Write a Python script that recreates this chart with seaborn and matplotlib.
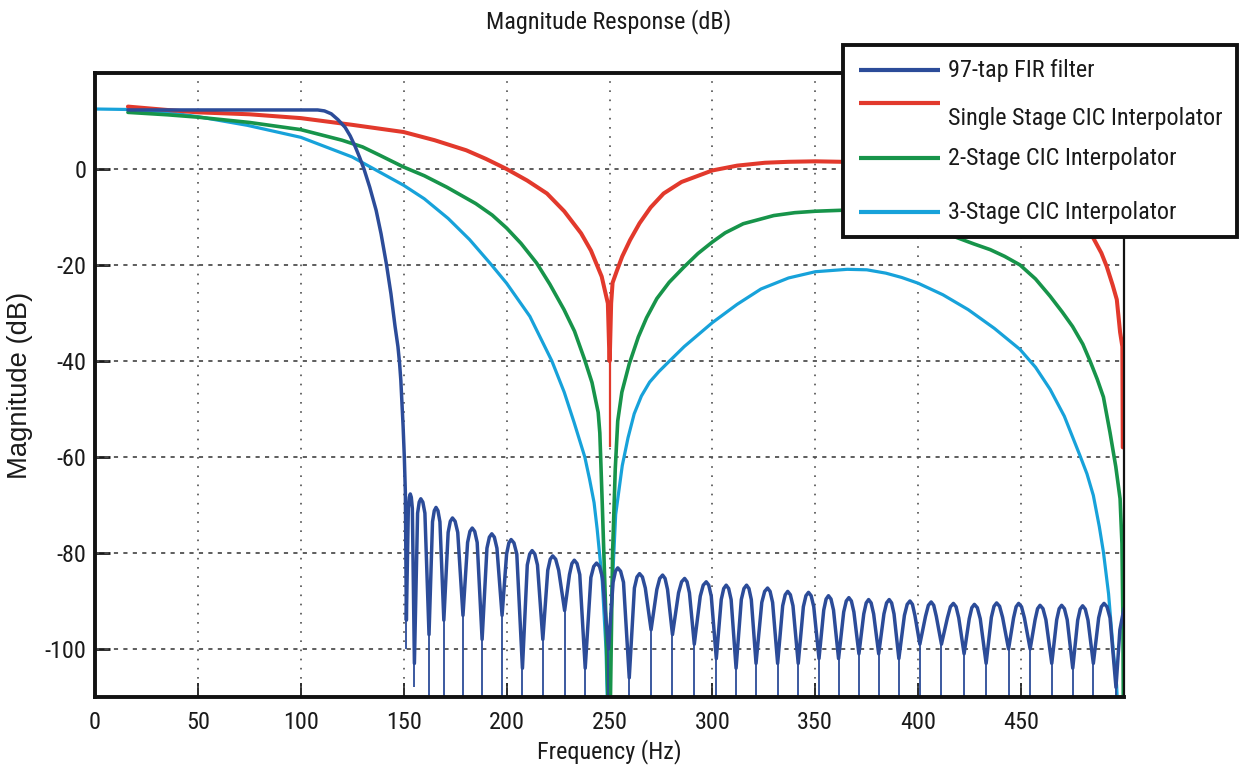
import matplotlib
matplotlib.use("Agg")
import matplotlib.pyplot as plt
from matplotlib.font_manager import fontManager
from matplotlib.patches import Rectangle
import numpy as np
import pandas as pd
import seaborn as sns

# ---------------------------------------------------------------- data
# 97-tap FIR filter: flat passband and transition band
fir_pass_hz = [16, 108.2, 111.5, 114.8, 118.0, 121.5, 124.0, 126.5, 128.6, 130.7,
               133.5, 136.6, 139.0, 141.6, 143.8, 145.8, 147.2, 148.0, 148.6, 149.2,
               149.7, 150.3, 150.8]
fir_pass_db = [12.3, 12.3, 12.1, 11.5, 10.3, 8.7, 6.9, 4.6, 2.4, 0.0,
               -3.8, -8.6, -13.5, -19.8, -26.0, -32.8, -37.0, -40.5, -44.0, -49.0,
               -53.5, -60.0, -67.3]

# stopband lobes, one row per lobe: [null, shoulder, near-top, peak, near-top, shoulder]
fir_lobe_hz = [
    [151.3, 152.25, 152.73, 153.2, 153.7, 154.2],
    [155.2, 156.75, 157.53, 158.3, 159.3, 160.3],
    [162.3, 164.0, 164.85, 165.7, 166.65, 167.6],
    [169.5, 171.6, 172.65, 173.7, 174.98, 176.25],
    [178.8, 181.05, 182.18, 183.3, 184.5, 185.7],
    [188.1, 190.45, 191.63, 192.8, 194.05, 195.3],
    [197.8, 200.0, 201.1, 202.2, 203.58, 204.95],
    [207.7, 210.05, 211.23, 212.4, 213.7, 215.0],
    [217.6, 220.0, 221.2, 222.4, 223.85, 225.3],
    [228.2, 230.55, 231.73, 232.9, 234.23, 235.55],
    [238.2, 240.95, 242.33, 243.7, 245.15, 246.6],
    [249.5, 251.75, 252.88, 254.0, 255.4, 256.8],
    [259.6, 262.1, 263.35, 264.6, 266.0, 267.4],
    [270.2, 273.0, 274.4, 275.8, 277.0, 278.2],
    [280.6, 283.55, 285.03, 286.5, 287.68, 288.85],
    [291.2, 294.1, 295.55, 297.0, 298.23, 299.45],
    [301.9, 304.3, 305.5, 306.7, 307.9, 309.1],
    [311.5, 314.05, 315.33, 316.6, 317.75, 318.9],
    [321.2, 324.0, 325.4, 326.8, 328.03, 329.25],
    [331.7, 334.15, 335.38, 336.6, 337.88, 339.15],
    [341.7, 344.2, 345.45, 346.7, 347.98, 349.25],
    [351.8, 354.1, 355.25, 356.4, 357.63, 358.85],
    [361.3, 363.8, 365.05, 366.3, 367.53, 368.75],
    [371.2, 373.55, 374.73, 375.9, 377.13, 378.35],
    [380.8, 383.35, 384.63, 385.9, 387.08, 388.25],
    [390.6, 393.3, 394.65, 396.0, 397.2, 398.4],
    [400.8, 403.55, 404.93, 406.3, 407.55, 408.8],
    [411.3, 414.2, 415.65, 417.1, 418.4, 419.7],
    [422.3, 424.8, 426.05, 427.3, 428.73, 430.15],
    [433.0, 435.55, 436.83, 438.1, 439.55, 441.0],
    [443.9, 446.35, 447.58, 448.8, 450.2, 451.6],
    [454.4, 456.8, 458.0, 459.2, 460.63, 462.05],
    [464.9, 467.3, 468.5, 469.7, 471.05, 472.4],
    [475.1, 477.5, 478.7, 479.9, 481.2, 482.5],
    [485.1, 487.7, 489.0, 490.3, 491.75, 493.2],
]
fir_lobe_db = [
    [-94, -70.7, -68.4, -67.7, -68.4, -70.7],
    [-103, -71.7, -69.4, -68.7, -69.4, -71.7],
    [-97, -73.5, -71.2, -70.5, -71.2, -73.5],
    [-94, -75.7, -73.4, -72.7, -73.4, -75.7],
    [-93, -77.8, -75.5, -74.8, -75.5, -77.8],
    [-98, -79.0, -76.7, -76.0, -76.7, -79.0],
    [-93, -80.2, -77.9, -77.2, -77.9, -80.2],
    [-104, -82.5, -80.2, -79.5, -80.2, -82.5],
    [-98, -83.6, -81.3, -80.6, -81.3, -83.6],
    [-92, -84.5, -82.2, -81.5, -82.2, -84.5],
    [-104, -85.1, -82.8, -82.1, -82.8, -85.1],
    [-100, -86.1, -83.8, -83.1, -83.8, -86.1],
    [-106, -87.3, -85.0, -84.3, -85.0, -87.3],
    [-96, -87.6, -85.3, -84.6, -85.3, -87.6],
    [-97, -88.3, -86.0, -85.3, -86.0, -88.3],
    [-99, -89.0, -86.7, -86.0, -86.7, -89.0],
    [-102, -89.7, -87.4, -86.7, -87.4, -89.7],
    [-104, -89.7, -87.4, -86.7, -87.4, -89.7],
    [-103, -90.3, -88.0, -87.3, -88.0, -90.3],
    [-103, -91.0, -88.7, -88.0, -88.7, -91.0],
    [-103, -91.2, -88.9, -88.2, -88.9, -91.2],
    [-102, -91.9, -89.6, -88.9, -89.6, -91.9],
    [-102, -92.3, -90.0, -89.3, -90.0, -92.3],
    [-101, -92.7, -90.4, -89.7, -90.4, -92.7],
    [-101, -92.7, -90.4, -89.7, -90.4, -92.7],
    [-102, -93.0, -90.7, -90.0, -90.7, -93.0],
    [-99, -93.2, -90.9, -90.2, -90.9, -93.2],
    [-99, -93.5, -91.2, -90.5, -91.2, -93.5],
    [-101, -93.7, -91.4, -90.7, -91.4, -93.7],
    [-103, -93.4, -91.1, -90.4, -91.1, -93.4],
    [-100, -93.5, -91.2, -90.5, -91.2, -93.5],
    [-100, -93.9, -91.6, -90.9, -91.6, -93.9],
    [-103, -93.9, -91.6, -90.9, -91.6, -93.9],
    [-104, -94.0, -91.7, -91.0, -91.7, -94.0],
    [-103, -93.5, -91.2, -90.5, -91.2, -93.5],
]
fir_tail_hz = [496.1, 498.0, 500.0]
fir_tail_db = [-108, -96.0, -91.5]
# deep part of each stopband null (thin trace below the lobe bottoms)
fir_null_hz = [151.3, 155.2, 162.3, 169.5, 178.8, 188.1, 197.8, 207.7, 217.6, 228.2,
               238.2, 249.5, 259.6, 270.2, 280.6, 291.2, 301.9, 311.5, 321.2, 331.7,
               341.7, 351.8, 361.3, 371.2, 380.8, 390.6, 400.8, 411.3, 422.3, 433.0,
               443.9, 454.4, 464.9, 475.1, 485.1, 496.1]
fir_null_floor = [-100, -108, -125, -125, -125, -125, -125, -125, -125, -125,
                  -125, -125, -125, -125, -125, -125, -125, -125, -125, -125,
                  -125, -125, -125, -125, -125, -125, -125, -125, -125, -125,
                  -125, -125, -125, -125, -125, -125]

# Single stage CIC interpolator
cic1_hz = [16, 35, 50, 75, 100, 125, 150, 165, 180.4, 190,
           200, 210, 219.6, 228, 236.2, 241, 246.2, 249.2, 250.0, 250.1,
           250.8, 251.5, 253.5, 256.2, 260, 264.6, 270, 276.3, 285, 300,
           312, 325.5, 337, 350, 362.6, 375, 387, 400, 412, 425,
           437, 450, 460, 470, 478, 485.1, 489, 491.6, 494.5, 496.5,
           498.1, 499.2, 499.4]
cic1_db = [13.0, 12.3, 11.8, 11.4, 10.6, 9.2, 7.7, 6.0, 3.9, 2.1,
           0.0, -2.4, -5.1, -8.8, -13.4, -17.0, -22.4, -28.0, -40.0, -40.0,
           -28.0, -23.7, -21.3, -18.2, -14.8, -11.3, -8.0, -5.1, -2.7, -0.3,
           0.7, 1.3, 1.5, 1.6, 1.5, 1.5, 1.3, 1.0, 0.3, -0.5,
           -1.8, -3.5, -5.6, -8.5, -11.0, -14.4, -17.5, -20.3, -24.2, -27.2,
           -34.0, -37.0, -58.0]
# thin deep end of the notch at 250 Hz
cic1_null_hz = [250.0]
cic1_null_top = [-40.0]
cic1_null_floor = [-58.0]

# 2-stage CIC interpolator
cic2_hz = [16, 35, 50, 75, 100, 120, 130, 138.2, 150, 160,
           171, 185, 193, 200, 207, 214.6, 221, 227.9, 233, 237.9,
           241.5, 244.5, 245.3, 246.5, 248.0, 249.5, 250.3, 251.5, 252.8, 254.0,
           256.0, 259.6, 264.0, 268.0, 273.0, 279.0, 286.0, 293.0, 300.0, 306.2,
           315.0, 329.8, 340.0, 350.0, 362.6, 375.0, 387.0, 400.0, 410.0, 417.6,
           427.0, 435.0, 442.0, 449.5, 457.0, 464.1, 470.0, 475.0, 480.0, 483.5,
           487.0, 490.0, 493.2, 496.0, 498.1, 499.0, 499.5, 499.7]
cic2_db = [11.8, 11.3, 10.8, 9.7, 8.2, 6.0, 4.6, 2.9, 0.4, -1.4,
           -3.8, -7.2, -9.6, -12.3, -15.5, -19.6, -24.0, -29.3, -33.8, -39.7,
           -44.5, -50.7, -55.0, -70.0, -90.0, -115.0, -115.0, -80.0, -62.5, -52.5,
           -46.5, -40.6, -35.0, -31.0, -27.0, -23.6, -20.5, -17.6, -15.2, -13.3,
           -11.4, -9.7, -9.1, -8.8, -8.6, -8.8, -9.6, -11.0, -12.6, -14.1,
           -15.6, -16.8, -18.2, -20.0, -22.9, -26.5, -29.8, -32.8, -36.5, -40.0,
           -43.8, -47.5, -54.9, -62.0, -68.7, -78.0, -95.0, -115.0]

# 3-stage CIC interpolator
cic3_hz = [0, 16, 35, 50, 74, 100, 125, 150, 160, 171.6,
           182, 192.7, 200, 211.3, 222, 228, 232.8, 238, 240.3, 242.5,
           244, 246.5, 248.3, 249.2, 249.6, 251, 253, 256.2, 259, 262,
           265.5, 269.5, 274, 278, 286.3, 300, 312, 323.6, 337, 350,
           365.5, 375, 384.3, 392, 400, 412, 424.3, 437, 449.5, 457,
           464.1, 471, 478.6, 482, 485.1, 488, 490, 492.5, 494.8, 496.4,
           497.2]
cic3_db = [12.5, 12.4, 11.8, 10.9, 9.1, 6.6, 2.5, -3.4, -6.2, -10.3,
           -14.7, -20.0, -23.8, -30.7, -40.0, -46.5, -52.8, -60.0, -64.6, -69.5,
           -75.0, -86.0, -100.0, -115.0, -115.0, -90.0, -72.0, -61.8, -56.0, -51.0,
           -47.3, -44.4, -42.2, -40.5, -37.0, -32.0, -28.2, -25.0, -22.7, -21.4,
           -20.9, -21.0, -21.7, -22.6, -23.8, -26.2, -29.3, -33.2, -37.6, -41.3,
           -45.9, -51.5, -59.7, -63.5, -68.0, -74.5, -79.8, -88.5, -100.5, -107.5,
           -115.0]

series_names = ["97-tap FIR filter", "Single Stage CIC Interpolator",
                "2-Stage CIC Interpolator", "3-Stage CIC Interpolator"]
x_ticks = [0, 50, 100, 150, 200, 250, 300, 350, 400, 450]
y_ticks = [-100, -80, -60, -40, -20, 0]

# full FIR trace assembled from its pieces
fir_hz = fir_pass_hz + [v for row in fir_lobe_hz for v in row] + fir_tail_hz
fir_db = fir_pass_db + [v for row in fir_lobe_db for v in row] + fir_tail_db

# ---------------------------------------------------------------- style
sns.set_theme(style="white")
available = {f.name for f in fontManager.ttflist}
TEXT_FAMILY = next((n for n in ["Liberation Sans Narrow", "Arial Narrow", "Roboto Condensed"]
                    if n in available), "Liberation Sans")
NARROW = [TEXT_FAMILY, "DejaVu Sans"]
REGULAR = ["Liberation Sans", "DejaVu Sans"]
plt.rcParams["font.family"] = NARROW
plt.rcParams["lines.scale_dashes"] = False

colors = {
    series_names[0]: "#2c4c99",
    series_names[1]: "#e2392c",
    series_names[2]: "#17944a",
    series_names[3]: "#17a2da",
}
TXT = "#1a1a1a"

W, H = 1248, 771
fig = plt.figure(figsize=(W / 100, H / 100), dpi=100)
fig.patch.set_facecolor("white")
renderer = fig.canvas.get_renderer()


def text_px_width(s, size, family):
    t = fig.text(0, 0, s, fontsize=size, family=family)
    w = t.get_window_extent(renderer=renderer).width
    t.remove()
    return w


# size the fonts so that the long legend entry spans ~274 px
FS = 18.5 * 274 / text_px_width("Single Stage CIC Interpolator", 18.5, NARROW)
FS_Y = 18.5 * 188 / text_px_width("Magnitude (dB)", 18.5, REGULAR)

# axes frame in pixels: left 95, right 1124, top 73, bottom 697
ax = fig.add_axes([95 / W, 1 - 697 / H, (1124 - 95) / W, (697 - 73) / H])
ax.set_facecolor("white")

curves = [
    (series_names[3], cic3_hz, cic3_db, 2.3, 3),
    (series_names[2], cic2_hz, cic2_db, 2.6, 4),
    (series_names[1], cic1_hz, cic1_db, 2.9, 5),
    (series_names[0], fir_hz, fir_db, 2.5, 6),
]
for name, hz, db, lw, z in curves:
    df = pd.DataFrame({"Frequency (Hz)": hz, "Magnitude (dB)": db})
    sns.lineplot(data=df, x="Frequency (Hz)", y="Magnitude (dB)", ax=ax,
                 color=colors[name], linewidth=lw, estimator=None, sort=False,
                 zorder=z, solid_joinstyle="round")

# thin deep ends of the notches
ax.vlines(cic1_null_hz, cic1_null_floor, cic1_null_top, color=colors[series_names[1]],
          linewidth=1.6, zorder=5)
null_top = [row[0] for row in fir_lobe_db] + [fir_tail_db[0]]
ax.vlines(fir_null_hz, fir_null_floor, null_top, color=colors[series_names[0]],
          linewidth=1.3, zorder=6)

ax.set_xlim(0, 500)
ax.set_ylim(-110, 20)
ax.set_xticks(x_ticks)
ax.set_yticks(y_ticks)
ax.set_xticklabels([str(v) for v in x_ticks])
ax.set_yticklabels([str(v) for v in y_ticks])

# grid: dotted verticals, dashed horizontals
ax.grid(False)
for xv in x_ticks[1:]:
    ax.axvline(xv, color="#505050", lw=1.2, linestyle=(0, (1.2, 5.4)), zorder=1)
for yv in y_ticks:
    ax.axhline(yv, color="#505050", lw=1.3, linestyle=(0, (3.0, 3.8)), zorder=1)

ax.tick_params(axis="x", direction="in", length=10, width=1.3, labelsize=FS,
               pad=10, colors=TXT, top=False, bottom=True)
ax.tick_params(axis="y", direction="in", length=11, width=2.0, labelsize=FS,
               pad=6, colors=TXT, left=True, right=False)
for side in ["left", "top", "bottom"]:
    ax.spines[side].set_linewidth(2.8)
    ax.spines[side].set_color("#111111")
ax.spines["right"].set_linewidth(1.6)
ax.spines["right"].set_color("#111111")
for s in ax.spines.values():
    s.set_zorder(10)

ax.set_xlabel("Frequency (Hz)", fontsize=FS, color=TXT)
ax.xaxis.set_label_coords(0.5, -(752 - 697) / 624)
ax.xaxis.label.set_va("center")
ax.set_ylabel("Magnitude (dB)", fontsize=FS_Y, color=TXT, family=REGULAR)
ax.yaxis.set_label_coords((20 - 95) / 1029, 0.5)
ax.yaxis.label.set_va("center")
ax.yaxis.label.set_ha("center")

fig.text(609 / W, 1 - 22 / H, "Magnitude Response (dB)", ha="center", va="center",
         fontsize=FS, color=TXT)

# ---------------------------------------------------------------- legend box
lx0, lx1, ly0, ly1 = 843, 1237, 45, 237
lax = fig.add_axes([lx0 / W, 1 - ly1 / H, (lx1 - lx0) / W, (ly1 - ly0) / H])
lax.set_xlim(lx0, lx1)
lax.set_ylim(ly1, ly0)
lax.axis("off")
lax.add_patch(Rectangle((lx0, ly0), lx1 - lx0, ly1 - ly0, facecolor="white",
                        edgecolor="#111111", linewidth=2.8, clip_on=False))
handle_y = [70, 103, 158, 212]
text_y = [70, 118, 158, 212]
for name, hy, ty in zip(series_names, handle_y, text_y):
    lax.plot([859, 940], [hy, hy], color=colors[name], lw=3.0,
             solid_capstyle="butt", clip_on=False)
    lax.text(948, ty, name, ha="left", va="center", fontsize=FS, color=TXT)

fig.savefig("out.png", dpi=100, facecolor="white")
